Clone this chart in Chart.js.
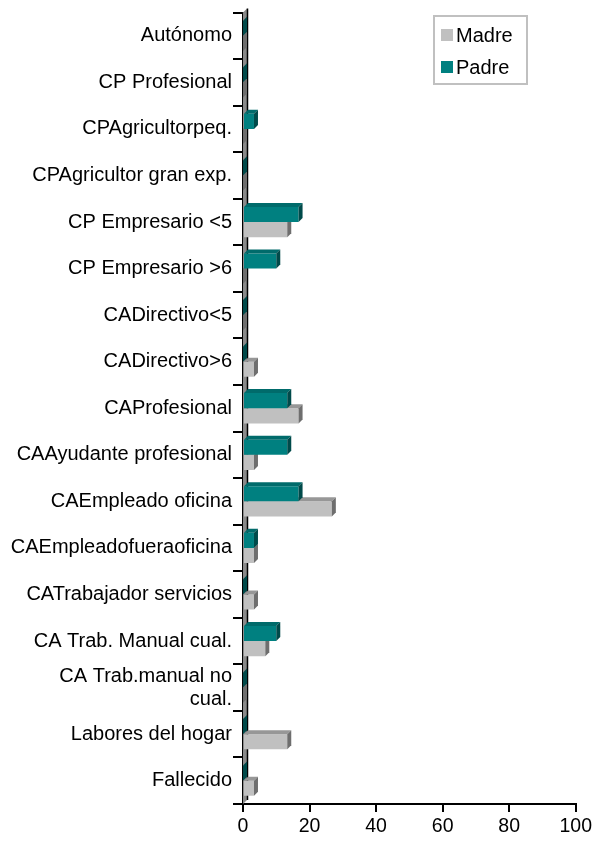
<!DOCTYPE html>
<html>
<head>
<meta charset="utf-8">
<script src="https://cdn.jsdelivr.net/npm/chart.js@4/dist/chart.umd.min.js"></script>
<style>
html,body{margin:0;padding:0;background:#fff;}
#wrap{width:595px;height:843px;position:relative;}
</style>
</head>
<body>
<div id="wrap"><canvas id="c" width="595" height="843"></canvas></div>
<script>
const categories = [
  "Autónomo","CP Profesional","CPAgricultorpeq.","CPAgricultor gran exp.",
  "CP Empresario <5","CP Empresario >6","CADirectivo<5","CADirectivo>6",
  "CAProfesional","CAAyudante profesional","CAEmpleado oficina",
  "CAEmpleadofueraoficina","CATrabajador servicios","CA Trab. Manual cual.",
  ["CA Trab.manual no","cual."],"Labores del hogar","Fallecido"
];
const padreValues = [0,0,3.3,0,16.7,10,0,0,13.3,13.3,16.7,3.3,0,10,0,0,0];
const madreValues = [0,0,0,0,13.3,0,0,3.3,16.7,3.3,26.7,3.3,3.3,6.7,0,13.3,3.3];
const xTicks = [0,20,40,60,80,100];
const seriesNames = ["Padre","Madre"];

const FONT = "'Liberation Sans', Arial, sans-serif";
const D = 4;
const faceColors = {
  "Padre": {front:"#008080", top:"#006B6B", side:"#004A4A"},
  "Madre": {front:"#C0C0C0", top:"#979797", side:"#6E6E6E"}
};

const threeD = {
  id: 'threeD',
  beforeDatasetsDraw(chart) {
    const a = chart.chartArea, ctx = chart.ctx;
    const x0 = chart.scales.x.getPixelForValue(0);
    ctx.save();
    ctx.fillStyle = "#8A8A8A";
    ctx.beginPath();
    ctx.moveTo(x0, a.bottom);
    ctx.lineTo(x0 + D, a.bottom - D);
    ctx.lineTo(x0 + D, a.top - D);
    ctx.lineTo(x0, a.top);
    ctx.closePath();
    ctx.fill();
    ctx.strokeStyle = "#000";
    ctx.lineWidth = 1.5;
    ctx.beginPath();
    ctx.moveTo(x0 + D + 0.5, a.top - D);
    ctx.lineTo(x0 + D + 0.5, a.bottom - D);
    ctx.stroke();
    ctx.restore();
  },
  afterDatasetDraw(chart, args) {
    const ctx = chart.ctx;
    const ds = chart.data.datasets[args.index];
    const col = faceColors[ds.label];
    const meta = args.meta;
    ctx.save();
    meta.data.forEach(el => {
      const p = el.getProps(['x','y','base','height'], true);
      const t = p.y - p.height/2, b = p.y + p.height/2;
      const xs = Math.min(p.base, p.x), xe = Math.max(p.base, p.x);
      if (xe - xs > 0.5) {
        ctx.fillStyle = col.top;
        ctx.beginPath();
        ctx.moveTo(xs, t);
        ctx.lineTo(xs + D, t - D);
        ctx.lineTo(xe + D, t - D);
        ctx.lineTo(xe, t);
        ctx.closePath();
        ctx.fill();
      }
      ctx.fillStyle = col.side;
      ctx.beginPath();
      ctx.moveTo(xe, t);
      ctx.lineTo(xe + D, t - D);
      ctx.lineTo(xe + D, b - D);
      ctx.lineTo(xe, b);
      ctx.closePath();
      ctx.fill();
    });
    ctx.restore();
  }
};

const legendBox = {
  id: 'legendBox',
  afterDraw(chart) {
    const ctx = chart.ctx;
    ctx.save();
    ctx.strokeStyle = "#C0C0C0";
    ctx.lineWidth = 2;
    ctx.strokeRect(434, 16, 93, 68);
    const items = chart.data.datasets.slice().reverse();
    ctx.font = "20px " + FONT;
    ctx.textBaseline = "middle";
    items.forEach((ds, i) => {
      const yc = 35 + i * 32;
      ctx.fillStyle = ds.backgroundColor;
      ctx.fillRect(441, yc - 6, 12, 12);
      ctx.fillStyle = "#000";
      ctx.fillText(ds.label, 456, yc + 1);
    });
    ctx.restore();
  }
};

new Chart(document.getElementById('c'), {
  type: 'bar',
  data: {
    labels: categories,
    datasets: [
      {label: seriesNames[0], data: padreValues, backgroundColor: faceColors["Padre"].front,
       categoryPercentage: 0.65, barPercentage: 1.0, borderWidth: 0},
      {label: seriesNames[1], data: madreValues, backgroundColor: faceColors["Madre"].front,
       categoryPercentage: 0.65, barPercentage: 1.0, borderWidth: 0}
    ]
  },
  options: {
    indexAxis: 'y',
    responsive: false,
    animation: false,
    layout: {padding: {top: 11, right: 18, bottom: 0, left: 0}},
    plugins: {legend: {display: false}, tooltip: {enabled: false}},
    scales: {
      x: {
        min: 0, max: 100,
        afterBuildTicks: (s) => { s.ticks = xTicks.map(v => ({value: v})); },
        afterFit: (s) => { s.height = 39; },
        ticks: {color: "#000", font: {family: FONT, size: 19.5}, padding: 3, maxRotation: 0},
        grid: {drawOnChartArea: false, color: "#000", lineWidth: 2, tickLength: 8},
        border: {display: true, color: "#000", width: 2}
      },
      y: {
        z: 1,
        afterFit: (s) => { s.width = 243; },
        ticks: {color: "#000", font: {family: FONT, size: 20, lineHeight: 1.15}, padding: 1, autoSkip: false},
        grid: {drawOnChartArea: false, offset: true, color: "#000", lineWidth: 2, tickLength: 10},
        border: {display: true, color: "#000", width: 2}
      }
    }
  },
  plugins: [threeD, legendBox]
});
</script>
</body>
</html>
